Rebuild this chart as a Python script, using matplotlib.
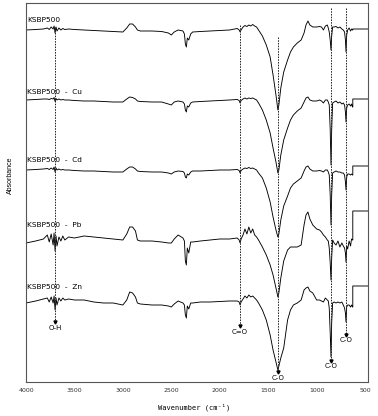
import numpy as np
import matplotlib
matplotlib.use("Agg")
import matplotlib.pyplot as plt

# wavenumber anchors (cm-1), shared by all spectra
wn = [4000, 3900, 3820, 3780, 3760, 3740, 3720, 3710, 3700, 3690,
      3680, 3660, 3640, 3620, 3600, 3560, 3500, 3400, 3300, 3200,
      3100, 3000, 2960, 2930, 2900, 2870, 2850, 2820, 2700, 2600,
      2530, 2500, 2470, 2430, 2380, 2365, 2355, 2345, 2335, 2320,
      2300, 2280, 2200, 2100, 2000, 1900, 1820, 1800, 1790, 1780,
      1760, 1740, 1720, 1700, 1680, 1660, 1640, 1620, 1600, 1560,
      1520, 1480, 1450, 1420, 1400, 1390, 1370, 1340, 1300, 1270,
      1240, 1200, 1160, 1130, 1110, 1090, 1070, 1040, 1000, 970,
      950, 930, 910, 890, 880, 870, 860, 852, 845, 835,
      820, 800, 780, 760, 740, 725, 712, 703, 697, 690,
      680, 665, 650, 640, 630]

s_ksbp = [0, 0.5, 1, 2, 0.5, 3, 1, 4, -3, 3,
          -1, 2, 0, 1.5, 0.5, 1, 0.5, 0, -0.5, -1,
          -1.5, -2, 2, 6, 6, 3, 0, -1, -1, -1.5,
          -3, -5, -2, 0, -1, -4, -14, -17, -8, -10,
          -4, -2, -1.5, -1, -0.5, 0, 1.5, 0, -2, 0,
          3, 4.5, 3.5, 5, 4, 5.5, 4, 3, 0, -6,
          -15, -27, -45, -65, -80, -75, -58, -42, -30, -22,
          -17, -13, -10, -3, 5, 9, 5, 3, 3, 3.5,
          3, 0, 4, 5, 2, -2, -10, -20, -6, 3,
          3, 3.5, 2, 3, 1, 0, -2, -10, -22, -5,
          0, 2, -1, 1, 0]

s_cu = [0, 0.5, 1, 1, 0.5, 1.5, 1, 2.5, -1.5, 1.5,
        0, 1, 0, 0.5, 0, 0, -0.5, -1, -1, -1.5,
        -2, -2, 1, 3, 2.5, 1, -1, -1.5, -2, -2,
        -4, -5, -2, -1, -2, -4, -10, -12, -6, -7,
        -3, -2, -1.5, -1, -0.5, 0, 0.5, -0.5, -3, -0.5,
        1, 2, 1, 2, 1.5, 2, 1, 0, -3, -10,
        -20, -33, -48, -62, -73, -70, -55, -40, -28, -20,
        -15, -11, -8, -2, 2, 3, 0, -1, -1, 0,
        -1, -3, 0, 0, -2, -5, -30, -65, -30, -3,
        -2, -1, -3, -2, -4, -3, -5, -12, -22, -8,
        -5, -4, -6, -4, -7]

s_cd = [0, 0.5, 1, 1.5, 0.5, 2, 0.5, 3, -2, 2,
        0, 1, 0, 0.5, 0, 0, -0.5, -1, -1, -1.5,
        -2, -2, 1, 3, 3, 1, -1, -1.5, -2, -2,
        -3, -4, -2, -1, -1.5, -3, -7, -8, -4, -5,
        -2, -1, -1, -0.5, 0, 0, 0.5, -0.5, -3, -0.5,
        1, 2, 1.5, 2.5, 1.5, 2, 1, 0, -3, -8,
        -18, -32, -47, -60, -67, -64, -50, -36, -26, -18,
        -14, -11, -8, -1, 3, 4, 1, -1, -1, -0.5,
        -1, -2, 0, 0, -2, -5, -25, -55, -25, -3,
        -2, -1, -2, -2, -3, -3, -5, -12, -20, -7,
        -4, -4, -5, -4, -5]

s_pb = [0, 2, 4, 8, 1, 9, -2, 10, -8, 7,
        -3, 6, 2, 7, 3, 6, 5, 7, 6, 5,
        4, 3, 9, 16, 16, 12, 3, 2, 2, 1,
        0, 0, 4, 8, 5, 2, -18, -22, -5, -10,
        1, 1, 2, 3, 4, 4, 5, 3, 0, 4,
        8, 14, 9, 16, 10, 14, 8, 6, 3, -4,
        -12, -22, -32, -45, -54, -50, -35, -18, -7, -4,
        -4, -4, -2, 18, 28, 31, 24, 18, 14, 13,
        11, 8, 6, 3, 2, -5, -20, -37, -15, 3,
        0, -2, 2, -4, 0, -3, -5, -10, -19, -3,
        -6, 2, -3, 4, 3]

s_zn = [0, 2, 4, 5, 1, 6, 0, 7, -7, 5,
        -2, 5, 2, 5, 3, 4, 3, 3, 1, 0,
        0, -2, 3, 11, 10, 6, 0, -1, -2, -2,
        -3, -4, -1, 2, 0, -2, -12, -15, -3, -6,
        0, 0, 1, 1, 1.5, 2, 2, 1, -2, 1,
        4, 7, 5, 8, 6, 7, 5, 3, 0, -7,
        -17, -32, -47, -59, -67, -63, -55, -45, -17, -7,
        -2, 0, 3, 13, 15, 16, 12, 10, 3, 3,
        2, 1, 5, 3, 2, -5, -30, -54, -20, 0,
        1, 0, 1, 0, 1, -2, -5, -10, -19, -4,
        -2, -2, -4, -2, -4]

names = ["KSBP500", "KSBP500  -  Cu", "KSBP500  -  Cd", "KSBP500  -  Pb", "KSBP500  -  Zn"]
spectra = [s_ksbp, s_cu, s_cd, s_pb, s_zn]
offsets = [352, 282, 212, 139, 79]
step_levels = [1, 1, 4, 32, 17]
label_y = [362, 290, 222, 157, 95]
wn_step = 627
wn_end = 470

# band markers: position, top of dashed line, arrow tip, label
band_wn = [3700, 1790, 1398, 851, 696]
band_top = [355, 357, 345, 374, 374]
band_tip = [59, 55, 9, 20, 46]
band_txt = ["O-H", "C=O", "C-O", "C-O", "C-O"]

fig = plt.figure(figsize=(3.78, 4.16), dpi=100)
ax = fig.add_axes([26 / 378, 34 / 416, 342 / 378, 379 / 416])

for s, off, st in zip(spectra, offsets, step_levels):
    x = list(wn) + [wn_step, wn_step, wn_end]
    y = [off + v for v in s] + [off + s[-1], off + st, off + st]
    ax.plot(x, y, color="black", lw=0.65)

for name, ly in zip(names, label_y):
    ax.text(3985, ly, name, fontsize=5.3, va="center", ha="left",
            family="DejaVu Sans")

for bw, top, tip, txt in zip(band_wn, band_top, band_tip, band_txt):
    ax.plot([bw, bw], [top, tip + 2], color="#222222", lw=0.7,
            linestyle=(0, (1.6, 1.2)))
    ax.plot([bw], [tip + 1.5], marker="v", color="black", ms=2.2)
    ax.text(bw, tip - 1.5, txt, fontsize=5, ha="center", va="top",
            family="DejaVu Sans")

ax.set_xlim(4000, wn_end)
ax.set_ylim(0, 379)
ax.set_xticks([4000, 3500, 3000, 2500, 2000, 1500, 1000, 500])
ax.set_yticks([])
ax.tick_params(axis="x", length=0, pad=4, labelsize=4.5, labelcolor="#333333")
for sp in ax.spines.values():
    sp.set_color("#555555")
    sp.set_linewidth(0.8)

fig.text(194 / 378, 1 - 407 / 416, "Wavenumber (cm\u207b\u00b9)", fontsize=5,
         family="DejaVu Sans Mono", ha="center", va="center")
fig.text(10 / 378, 1 - 175 / 416, "Absorbance", fontsize=5, rotation=90,
         family="Liberation Sans", ha="center", va="center")

fig.savefig("out.png", dpi=100)
